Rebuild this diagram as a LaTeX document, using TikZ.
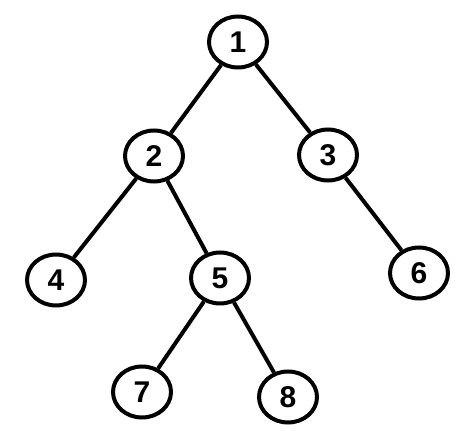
\documentclass[tikz,border=0pt]{standalone}
\usepackage{fontspec}
\setmainfont{Liberation Sans}
\usetikzlibrary{shapes.geometric}

\begin{document}
\begin{tikzpicture}[x=1pt, y=-1pt,
    treenode/.style={ellipse, draw, line width=4pt, minimum width=58pt, minimum height=51pt,
      inner sep=0pt, font=\fontsize{30}{30}\selectfont\bfseries},
    treeedge/.style={line width=4pt}]
        \useasboundingbox (0,0) rectangle (475,439);
        % nodes
        \node[treenode] (n1) at (238,42) {1};
        \node[treenode] (n2) at (154,156) {2};
        \node[treenode] (n3) at (328,155) {3};
        \node[treenode] (n4) at (56,280) {4};
        \node[treenode] (n5) at (220,278) {5};
        \node[treenode] (n6) at (419,273) {6};
        \node[treenode] (n7) at (142,392) {7};
        \node[treenode] (n8) at (288,397) {8};
        % edges
        \foreach \a/\b in {n1/n2, n1/n3, n2/n4, n2/n5, n3/n6, n5/n7, n5/n8}
            \draw[treeedge] (\a) -- (\b);
    \end{tikzpicture}
\end{document}
